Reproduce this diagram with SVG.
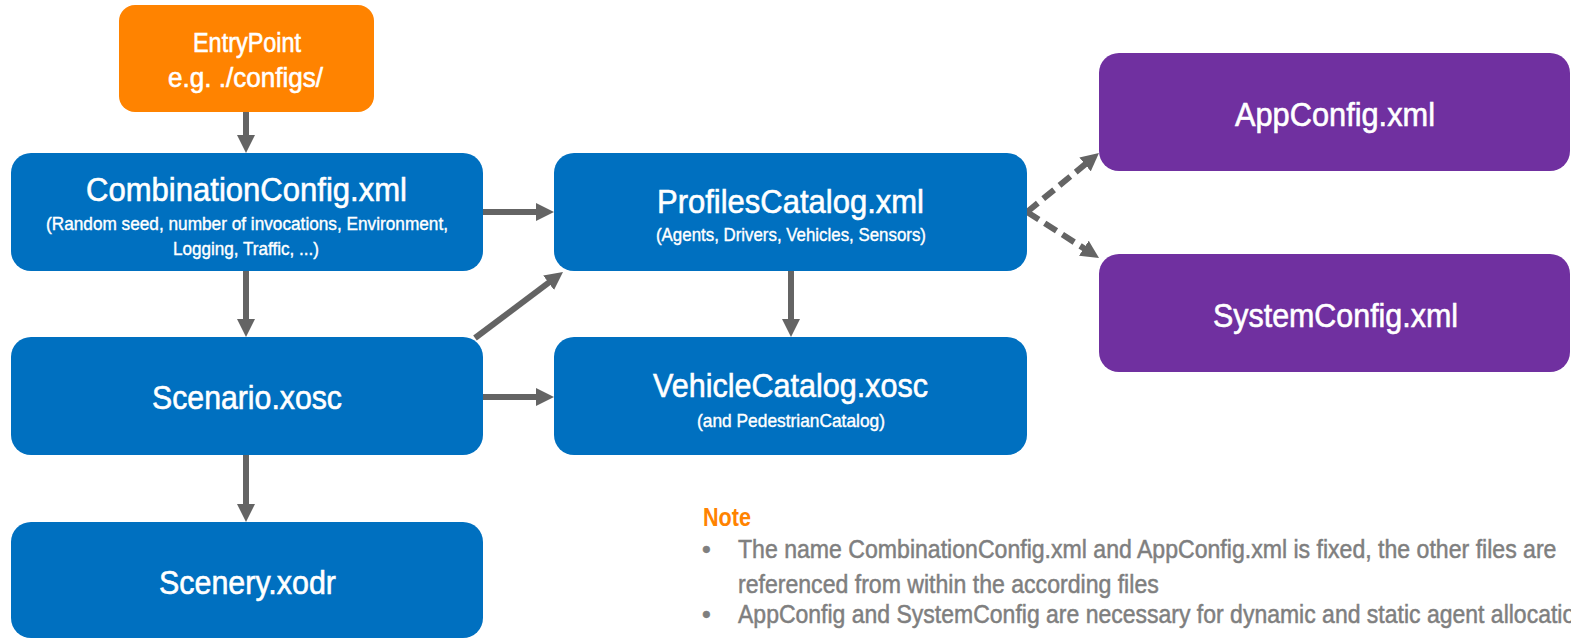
<svg xmlns="http://www.w3.org/2000/svg" width="1571" height="639" viewBox="0 0 1571 639">
  <style>
    .box-blue { fill: #0070C0; }
    .box-purple { fill: #7030A0; }
    .box-orange { fill: #FF8300; }
    .lbl { font-family: "Liberation Sans", Arial, sans-serif; fill: #FFFFFF; stroke: #FFFFFF; stroke-width: 0.6; text-anchor: middle; }
    .main { font-size: 34px; }
    .sub { font-size: 19px; stroke-width: 0.4; }
    .entry { font-size: 27px; }
    .note-head { font-family: "Liberation Sans", Arial, sans-serif; font-size: 25px; font-weight: bold; fill: #FF8300; }
    .note { font-family: "Liberation Sans", Arial, sans-serif; font-size: 25px; fill: #7F7F7F; stroke: #7F7F7F; stroke-width: 0.5; }
    .conn { stroke: #646464; stroke-width: 6; fill: none; }
    .dashed { stroke-dasharray: 14 7; }
  </style>
  <defs>
    <marker id="arrow" markerUnits="userSpaceOnUse" markerWidth="18" markerHeight="18" refX="6" refY="9" orient="auto">
      <path d="M0,0 L18,9 L0,18 Z" fill="#646464"/>
    </marker>
  </defs>

  <!-- connectors -->
  <g id="connectors">
    <line class="conn" x1="246" y1="112" x2="246" y2="141" marker-end="url(#arrow)"/>
    <line class="conn" x1="246" y1="271" x2="246" y2="325" marker-end="url(#arrow)"/>
    <line class="conn" x1="246" y1="455" x2="246" y2="510" marker-end="url(#arrow)"/>
    <line class="conn" x1="483" y1="212" x2="542" y2="212" marker-end="url(#arrow)"/>
    <line class="conn" x1="483" y1="397" x2="542" y2="397" marker-end="url(#arrow)"/>
    <line class="conn" x1="475" y1="338" x2="553.4" y2="279.2" marker-end="url(#arrow)"/>
    <line class="conn" x1="791" y1="271" x2="791" y2="325" marker-end="url(#arrow)"/>
    <line class="conn dashed" x1="1027" y1="212" x2="1089.7" y2="160.6" marker-end="url(#arrow)"/>
    <line class="conn dashed" x1="1027" y1="212" x2="1088.9" y2="251.5" marker-end="url(#arrow)"/>
  </g>

  <g id="entry-point">
    <rect class="box-orange" x="119" y="5" width="255" height="107" rx="16"/>
    <text class="lbl entry" x="247" y="52" textLength="108" lengthAdjust="spacingAndGlyphs">EntryPoint</text>
    <text class="lbl entry" x="245.5" y="87" textLength="155" lengthAdjust="spacingAndGlyphs">e.g. ./configs/</text>
  </g>

  <g id="combination-config">
    <rect class="box-blue" x="11" y="153" width="472" height="118" rx="20"/>
    <text class="lbl main" x="246.5" y="201" textLength="321" lengthAdjust="spacingAndGlyphs">CombinationConfig.xml</text>
    <text class="lbl sub" x="247" y="230" textLength="402" lengthAdjust="spacingAndGlyphs">(Random seed, number of invocations, Environment,</text>
    <text class="lbl sub" x="246" y="255" textLength="146" lengthAdjust="spacingAndGlyphs">Logging, Traffic, ...)</text>
  </g>

  <g id="scenario">
    <rect class="box-blue" x="11" y="337" width="472" height="118" rx="20"/>
    <text class="lbl main" x="247" y="409" textLength="190" lengthAdjust="spacingAndGlyphs">Scenario.xosc</text>
  </g>

  <g id="scenery">
    <rect class="box-blue" x="11" y="522" width="472" height="116" rx="20"/>
    <text class="lbl main" x="247.5" y="594" textLength="177" lengthAdjust="spacingAndGlyphs">Scenery.xodr</text>
  </g>

  <g id="profiles-catalog">
    <rect class="box-blue" x="554" y="153" width="473" height="118" rx="20"/>
    <text class="lbl main" x="790.5" y="213" textLength="267" lengthAdjust="spacingAndGlyphs">ProfilesCatalog.xml</text>
    <text class="lbl sub" x="791" y="241" textLength="270" lengthAdjust="spacingAndGlyphs">(Agents, Drivers, Vehicles, Sensors)</text>
  </g>

  <g id="vehicle-catalog">
    <rect class="box-blue" x="554" y="337" width="473" height="118" rx="20"/>
    <text class="lbl main" x="790.5" y="397" textLength="275" lengthAdjust="spacingAndGlyphs">VehicleCatalog.xosc</text>
    <text class="lbl sub" x="791" y="427" textLength="188" lengthAdjust="spacingAndGlyphs">(and PedestrianCatalog)</text>
  </g>

  <g id="app-config">
    <rect class="box-purple" x="1099" y="53" width="471" height="118" rx="20"/>
    <text class="lbl main" x="1335" y="126" textLength="200" lengthAdjust="spacingAndGlyphs">AppConfig.xml</text>
  </g>

  <g id="system-config">
    <rect class="box-purple" x="1099" y="254" width="471" height="118" rx="20"/>
    <text class="lbl main" x="1335.5" y="327" textLength="245" lengthAdjust="spacingAndGlyphs">SystemConfig.xml</text>
  </g>

  <g id="note">
    <text class="note-head" x="703" y="526" textLength="48" lengthAdjust="spacingAndGlyphs">Note</text>
    <text class="note" x="702" y="558" font-size="22">•</text>
    <text class="note" transform="translate(738,558) scale(0.924,1)">The name CombinationConfig.xml and AppConfig.xml is fixed, the other files are</text>
    <text class="note" transform="translate(738,593) scale(0.924,1)">referenced from within the according files</text>
    <text class="note" x="702" y="623" font-size="22">•</text>
    <text class="note" transform="translate(738,623) scale(0.92,1)">AppConfig and SystemConfig are necessary for dynamic and static agent allocation</text>
  </g>
</svg>
